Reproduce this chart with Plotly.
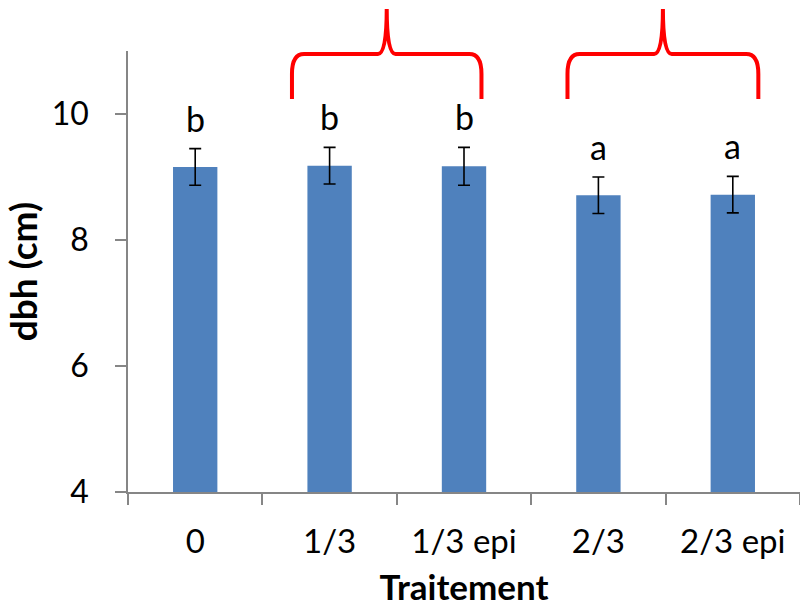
import plotly.graph_objects as go

# Treatments, mean dbh and standard error
traitements = ["0", "1/3", "1/3 epi", "2/3", "2/3 epi"]
dbh_moyen = [9.16, 9.18, 9.17, 8.71, 8.72]
erreur = [0.29, 0.29, 0.30, 0.29, 0.29]
lettres = ["b", "b", "b", "a", "a"]

# Groups of treatments joined by a brace (category index span)
groupes = [(0.72, 2.13), (2.77, 4.19)]

FONT = "Lato"
BLEU = "#4F81BD"
GRIS = "#868686"

fig = go.Figure()
fig.add_trace(go.Bar(
    x=traitements,
    y=dbh_moyen,
    width=0.33,
    marker=dict(color=BLEU, line=dict(width=0)),
    error_y=dict(type="data", array=erreur, visible=True,
                 color="black", thickness=1.6, width=6),
    showlegend=False,
))

# Significance letters above each error bar
for t, v, e, l in zip(traitements, dbh_moyen, erreur, lettres):
    fig.add_annotation(x=t, y=v + e, text=l, showarrow=False,
                       yanchor="bottom", yshift=8,
                       font=dict(family=FONT, size=34, color="black"))

# Curly braces drawn in paper coordinates above the plot
n = len(traitements)


def px(xc):
    return (xc + 0.5) / n


def brace_path(x0, x1, yb=0.891, yh=0.993, yt=1.095):
    xm = (x0 + x1) / 2
    r = 0.018   # corner width
    c = 0.013   # cusp width
    ry = 0.045
    return (
        f"M {px(x0)},{yb} L {px(x0)},{yh - ry} "
        f"Q {px(x0)},{yh} {px(x0) + r},{yh} "
        f"L {px(xm) - c},{yh} "
        f"Q {px(xm)},{yh} {px(xm)},{yt} "
        f"Q {px(xm)},{yh} {px(xm) + c},{yh} "
        f"L {px(x1) - r},{yh} "
        f"Q {px(x1)},{yh} {px(x1)},{yh - ry} "
        f"L {px(x1)},{yb}"
    )


for a, b in groupes:
    fig.add_shape(type="path", xref="paper", yref="paper",
                  path=brace_path(a, b),
                  line=dict(color="#FF0000", width=4))

fig.update_layout(
    width=800, height=607,
    margin=dict(l=128, r=0, t=51, b=115),
    plot_bgcolor="white", paper_bgcolor="white",
    font=dict(family=FONT, color="black"),
)
fig.update_xaxes(
    showline=True, linecolor=GRIS, linewidth=1.5,
    ticks="outside", tickson="boundaries", ticklen=11, tickcolor=GRIS,
    tickwidth=1.5, showgrid=False, ticklabelstandoff=20,
    tickfont=dict(family=FONT, size=33),
    title=dict(text="<b>Traitement</b>", font=dict(family=FONT, size=35),
               standoff=22),
    range=[-0.5, 4.5],
)
fig.update_yaxes(
    range=[4, 11], tickvals=[4, 6, 8, 10],
    showline=True, linecolor=GRIS, linewidth=1.5,
    ticks="outside", ticklen=11, tickcolor=GRIS, tickwidth=1.5,
    showgrid=False, zeroline=False, ticklabelstandoff=20,
    tickfont=dict(family=FONT, size=32),
    title=dict(text="<b>dbh (cm)</b>", font=dict(family=FONT, size=37),
               standoff=10),
)

fig.write_html("out.html")
